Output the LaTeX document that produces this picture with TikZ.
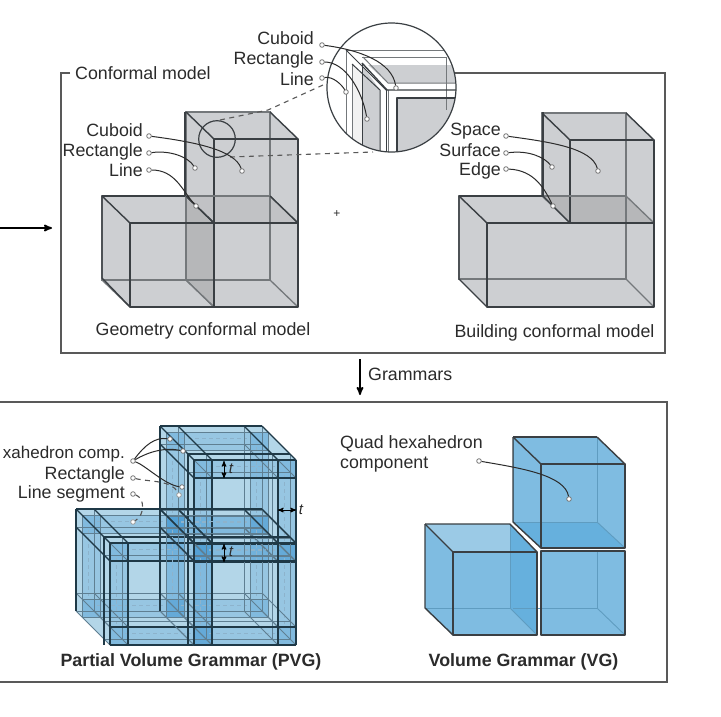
\documentclass[tikz,border=0pt]{standalone}
\usepackage{fontspec}
\setmainfont{Liberation Sans}
\usetikzlibrary{arrows}
\definecolor{inkc}{HTML}{2B2B2B}
\definecolor{edgec}{HTML}{3A3F43}
\definecolor{hiddenc}{HTML}{74787B}
\definecolor{greyc}{HTML}{CDCFD2}
\definecolor{greyd}{HTML}{B6B7B9}
\definecolor{greye}{HTML}{C1C2C5}
\definecolor{vgblue}{HTML}{7FBCE1}
\definecolor{vgtop}{HTML}{9BCAE6}
\definecolor{vgdark}{HTML}{66B0DD}
\definecolor{vgedge}{HTML}{5F9CC0}
\definecolor{pvgbase}{HTML}{B3D6E8}
\definecolor{pvgstrip}{HTML}{3F97D2}
\definecolor{pvgedge}{HTML}{1F3947}
\definecolor{pvghidden}{HTML}{5F7F92}
\definecolor{pvgdash}{HTML}{8DB3CC}
\tikzset{
  lbl/.style={text=inkc,inner sep=0pt,font=\fontsize{17.8}{20}\selectfont},
  frameline/.style={draw=black!65,line width=1.4pt},
  leader/.style={draw=inkc,line width=1pt},
  dashleader/.style={draw=inkc!80,line width=1.1pt,dash pattern=on 5pt off 4.5pt},
  dotmark/.style={circle,draw=black!55,fill=white,line width=.8pt,inner sep=0pt,minimum size=4.6pt},
  frontedge/.style={draw=edgec,line width=1.4pt,line join=round},
  backedge/.style={draw=hiddenc,line width=1.3pt},
  tarrow/.style={<->,>=stealth',draw=black,line width=1pt},
  tlbl/.style={text=inkc,inner sep=0pt,font=\fontsize{15}{17}\selectfont\itshape}
}
% wire of one cuboid: left x, top y, width, height of the front face
\newcommand{\wirebox}[4]{
  \draw[backedge] (#1-28,#2-27) rectangle +(#3,#4);
  \draw[backedge] (#1-28,#2+#4-27) -- +(28,27);
  \draw[backedge] (#1+#3-28,#2+#4-27) -- +(28,27);
  \draw[frontedge] (#1,#2) rectangle +(#3,#4);
  \draw[frontedge] (#1-28,#2-27) -- +(28,27);
  \draw[frontedge] (#1+#3-28,#2-27) -- +(28,27);
}
% outline fill of one hollow cuboid of the PVG: left x, top y of the front face
\newcommand{\pvgbasefill}[2]{
  \fill[pvgbase] (#1-34,#2-34) -- (#1+68,#2-34) -- (#1+102,#2) -- (#1+102,#2+102) -- (#1,#2+102) -- (#1-34,#2+68) -- cycle;
}
% walls of one hollow cuboid
\newcommand{\pvgfill}[2]{
  \foreach \d in {0,28} {
    \foreach \a in {0,84} {
      \fill[pvgstrip,fill opacity=.24] (#1+\a-\d,#2-\d) rectangle +(18,102);
      \fill[pvgstrip,fill opacity=.24] (#1-\d,#2+\a-\d) rectangle +(102,18);
    }
  }
}
% rails of one hollow cuboid
\newcommand{\pvglines}[2]{
  \foreach \d in {31,3} {
    \foreach \a in {9,93} {
      \draw[pvgdash,line width=.9pt,dash pattern=on 4pt off 3pt] (#1+\a-\d,#2+18-\d) -- +(0,66);
      \draw[pvgdash,line width=.9pt,dash pattern=on 4pt off 3pt] (#1+18-\d,#2+\a-\d) -- +(66,0);
    }
  }
  \foreach \d in {34,28,6} {
    \foreach \a in {0,18,84,102} {
      \draw[pvghidden,line width=.8pt] (#1+\a-\d,#2-\d) -- +(0,102);
      \draw[pvghidden,line width=.8pt] (#1-\d,#2+\a-\d) -- +(102,0);
    }
  }
  \foreach \a in {0,18,84,102} {
    \foreach \b in {18,84,102} {
      \draw[pvghidden,line width=.8pt] (#1+\a-34,#2+\b-34) -- +(34,34);
    }
  }
  \draw[pvgedge,line width=1.1pt] (#1-34,#2-34) -- +(102,0);
  \draw[pvgedge,line width=1.1pt] (#1-34,#2-34) -- +(0,102);
  \draw[pvgedge,line width=1.1pt] (#1-6,#2-6) -- +(0,108);
  \draw[pvgedge,line width=1.1pt] (#1-6,#2-6) -- +(102,0);
  \foreach \a in {0,18,84,102} {
    \draw[pvgedge,line width=1.2pt] (#1+\a-34,#2-34) -- +(34,34);
    \draw[pvgedge,line width=1.2pt] (#1+\a,#2) -- +(0,102);
    \draw[pvgedge,line width=1.2pt] (#1,#2+\a) -- +(102,0);
  }
  \draw[pvgedge,line width=1.2pt] (#1-34,#2-16) -- +(34,34);
}
\begin{document}
\begin{tikzpicture}[x=1pt,y=-1pt]
  \useasboundingbox (0,0) rectangle (721,716);
  \fill[white] (0,0) rectangle (721,716);

  % frames
  \draw[frameline] (70,73) -- (61,73) -- (61,353) -- (665,353) -- (665,73) -- (400,73);
  \draw[frameline] (0,402) -- (667,402) -- (667,682) -- (0,682);
  \node[lbl,anchor=west] (conformal) at (75,73) {Conformal model};
  \node[inner sep=0pt,text=inkc,font=\fontsize{12}{14}\selectfont] (plus) at (337,214) {+};

  % arrows between the panels
  \coordinate (inL) at (0,228);
  \coordinate (inR) at (52,228);
  \draw[->,>=stealth',line width=1.7pt,draw=black] (inL) -- (inR);
  \coordinate (gramT) at (360,359);
  \coordinate (gramB) at (360,395);
  \draw[->,>=stealth',line width=1.7pt,draw=black] (gramT) -- (gramB);
  \node[lbl,anchor=west] (grammars) at (368,374) {Grammars};

  % geometry conformal model
  \fill[greyc] (102,196) -- (185,196) -- (185,112) -- (269,112) -- (298,139) -- (298,307) -- (130,307) -- (102,278) -- cycle;
  \fill[greye] (185,196) -- (269,196) -- (298,223) -- (214,223) -- cycle;
  \fill[greyd] (185,196) -- (214,223) -- (214,307) -- (185,278) -- cycle;
  \wirebox{214}{139}{84}{84}
  \wirebox{214}{223}{84}{84}
  \wirebox{130}{223}{84}{84}
  \draw[frontedge] (185,112) -- (185,196);   % outline of the tall part
  \draw[frontedge] (102,196) -- (185,196);
  \draw[frontedge] (102,196) -- (102,278) -- (130,307);
  \node[lbl,anchor=center] (geomtitle) at (203,330.5) {Geometry conformal model};

  % building conformal model
  \fill[greyc] (459,196) -- (543,196) -- (543,112) -- (626,112) -- (654,140) -- (654,307) -- (487,307) -- (459,279) -- cycle;
  \fill[greyd] (543,196) -- (626,196) -- (654,223) -- (570,223) -- cycle;
  \wirebox{570}{140}{84}{83}
  \draw[backedge] (459,279) rectangle (626,196);
  \draw[backedge] (626,279) -- (654,307);
  \draw[frontedge] (487,223) rectangle (654,307);
  \draw[frontedge] (459,196) -- (487,223);
  \draw[frontedge] (543,196) -- (570,223);
  \draw[frontedge] (543,112) -- (543,196);
  \draw[frontedge] (459,196) -- (543,196);
  \draw[frontedge] (459,196) -- (459,279) -- (487,307);
  \node[lbl,anchor=center] (buildtitle) at (554.5,332.5) {Building conformal model};

  % magnifier and its dashed rays
  \node[circle,draw=edgec,line width=1.2pt,minimum size=36.6pt,inner sep=0pt] (lens) at (217,139) {};
  \coordinate (rayA) at (220,120);
  \coordinate (rayB) at (323,85);
  \coordinate (rayC) at (230,157);
  \coordinate (rayD) at (373,152);
  \draw[dashleader,draw=black!65] (rayA) -- (268,110) -- (rayB);
  \draw[dashleader,draw=black!65] (rayC) -- (rayD);
  \begin{scope}
    \clip (391.5,87.5) circle (64.5);
    \fill[white] (327,23) rectangle (456,152);
    \fill[black!5] (352,64) -- (380,90) -- (380,152) -- (352,152) -- cycle;
    \fill[greyc] (362,65) -- (380,90) -- (380,152) -- (362,152) -- cycle;
    \fill[greyc] (368,65) -- (456,65) -- (456,83) -- (388,83) -- cycle;
    \fill[greyc] (397,98) -- (456,98) -- (456,152) -- (397,152) -- cycle;
    \draw[backedge,line width=1pt] (346,50) -- (456,50);
    \draw[backedge,line width=1pt] (362,57) -- (446,57) -- (446,110);
    \draw[backedge,line width=1pt] (363,57) -- (388,83) -- (456,83);
    \draw[backedge,line width=1pt] (352,64) -- (352,152);
    \draw[backedge,line width=1pt] (346,50) -- (346,152);
    \draw[backedge,line width=1pt] (388,90) -- (388,152);
    \draw[frontedge,line width=1pt] (352,64) -- (380,90) -- (380,152);
    \draw[frontedge,line width=1pt] (346,50) -- (387,91);
    \draw[frontedge,line width=1.4pt] (362,63) -- (387,90) -- (456,90);
    \draw[frontedge,line width=1pt] (362,64) -- (362,152);
    \draw[frontedge,line width=1pt] (386,90) -- (386,152);
    \draw[frontedge,line width=1.3pt] (397,152) -- (397,98) -- (456,98);
  \end{scope}
  \node[circle,draw=edgec,line width=1.2pt,minimum size=129pt,inner sep=0pt] (zoomcircle) at (391.5,87.5) {};
  \draw[frameline] (456,73) -- (665,73);

  % volume grammar
  \fill[vgblue] (513,437) -- (597,437) -- (625,464) -- (625,548) -- (541,548) -- (513,522) -- cycle;
  \fill[vgdark] (513,522) -- (597,522) -- (625,548) -- (541,548) -- cycle;
  \fill[vgblue] (541,551) rectangle (625,635);
  \fill[vgblue] (425,524) -- (453,552) -- (537,552) -- (537,635) -- (453,635) -- (425,608) -- cycle;
  \fill[vgtop] (425,524) -- (510,524) -- (537,552) -- (453,552) -- cycle;
  \fill[vgdark] (510,524) -- (537,552) -- (537,635) -- (510,608) -- cycle;
  \draw[vgedge,line width=.9pt] (513,522) rectangle (597,437);
  \draw[vgedge,line width=.9pt] (597,522) -- (625,548);
  \draw[vgedge,line width=.9pt] (513,608) -- (597,608) -- (597,551);
  \draw[vgedge,line width=.9pt] (597,608) -- (625,635);
  \draw[vgedge,line width=.9pt] (425,608) -- (510,608) -- (510,524);
  \draw[vgedge,line width=.9pt] (510,608) -- (537,635);
  \draw[frontedge] (541,464) rectangle (625,548);
  \draw[frontedge] (513,437) -- (541,464);
  \draw[frontedge] (597,437) -- (625,464);
  \draw[frontedge] (513,437) -- (597,437);
  \draw[frontedge] (513,437) -- (513,522) -- (541,548);
  \draw[frontedge] (541,551) rectangle (625,635);
  \draw[frontedge] (453,552) rectangle (537,635);
  \draw[frontedge] (425,524) -- (510,524) -- (537,552);
  \draw[frontedge] (425,524) -- (453,552);
  \draw[frontedge] (425,524) -- (425,608) -- (453,635);
  \node[lbl,anchor=west,align=left] (quadlbl) at (340,454) {Quad hexahedron\\component};
  \node[lbl,anchor=center,font=\fontsize{17.8}{20}\selectfont\bfseries] (vgtitle) at (523.5,662) {Volume Grammar (VG)};

  % partial volume grammar
  \pvgbasefill{194}{460}
  \pvgbasefill{110}{543}
  \pvgbasefill{194}{543}
  \pvgfill{194}{460}
  \pvgfill{110}{543}
  \pvgfill{194}{543}
  \pvglines{194}{460}
  \pvglines{110}{543}
  \pvglines{194}{543}
  \node[lbl,anchor=center,font=\fontsize{17.8}{20}\selectfont\bfseries] (pvgtitle) at (191,662) {Partial Volume Grammar (PVG)};

  % t dimensions
  \coordinate (tAa) at (224,461);
  \coordinate (tAb) at (224,478);
  \coordinate (tBa) at (224,544);
  \coordinate (tBb) at (224,562);
  \coordinate (tCa) at (278,510);
  \coordinate (tCb) at (296,510);
  \draw[tarrow] (tAa) -- (tAb);
  \draw[tarrow] (tBa) -- (tBb);
  \draw[tarrow] (tCa) -- (tCb);
  \node[tlbl] (tA) at (231,469) {t};
  \node[tlbl] (tB) at (231,552) {t};
  \node[tlbl] (tC) at (301,510) {t};

  % labels with their leaders, geometry model
  \node[lbl,anchor=east] (gCuboid) at (143,130) {Cuboid};
  \node[lbl,anchor=east] (gRect) at (143,151.5) {Rectangle};
  \node[lbl,anchor=east] (gLine) at (143,170) {Line};
  \node[dotmark] (gCuboidS) at (149,136) {};
  \node[dotmark] (gRectS) at (149,153) {};
  \node[dotmark] (gLineS) at (149,170) {};
  \node[dotmark] (gCuboidE) at (242,171) {};
  \node[dotmark] (gRectE) at (195,168) {};
  \node[dotmark] (gLineE) at (196,206) {};
  \draw[leader] (gCuboidS) .. controls (195,142) and (235,150) .. (gCuboidE);
  \draw[leader] (gRectS) .. controls (170,150) and (188,157) .. (gRectE);
  \draw[leader] (gLineS) .. controls (175,170) and (182,190) .. (gLineE);

  % magnifier
  \node[lbl,anchor=east] (zCuboid) at (314,38) {Cuboid};
  \node[lbl,anchor=east] (zRect) at (314,60) {Rectangle};
  \node[lbl,anchor=east] (zLine) at (314,79) {Line};
  \node[dotmark] (zCuboidS) at (322,45) {};
  \node[dotmark] (zRectS) at (322,62) {};
  \node[dotmark] (zLineS) at (322,78) {};
  \node[dotmark] (zCuboidE) at (396,88) {};
  \node[dotmark] (zRectE) at (367,119) {};
  \node[dotmark] (zLineE) at (346,92) {};
  \draw[leader] (zCuboidS) .. controls (360,50) and (392,62) .. (zCuboidE);
  \draw[leader] (zRectS) .. controls (345,62) and (362,90) .. (zRectE);
  \draw[leader] (zLineS) .. controls (333,76) and (342,85) .. (zLineE);

  % building model
  \node[lbl,anchor=east] (bSpace) at (501,131) {Space};
  \node[lbl,anchor=east] (bSurface) at (501,150) {Surface};
  \node[lbl,anchor=east] (bEdge) at (501,171) {Edge};
  \node[dotmark] (bSpaceS) at (506,136) {};
  \node[dotmark] (bSurfaceS) at (506,153) {};
  \node[dotmark] (bEdgeS) at (506,169) {};
  \node[dotmark] (bSpaceE) at (598,171) {};
  \node[dotmark] (bSurfaceE) at (552,167) {};
  \node[dotmark] (bEdgeE) at (553,206) {};
  \draw[leader] (bSpaceS) .. controls (550,142) and (592,148) .. (bSpaceE);
  \draw[leader] (bSurfaceS) .. controls (530,150) and (545,158) .. (bSurfaceE);
  \draw[leader] (bEdgeS) .. controls (535,170) and (545,190) .. (bEdgeE);

  % VG leader
  \node[dotmark] (quadS) at (479,461) {};
  \node[dotmark] (quadE) at (569,499) {};
  \draw[leader] (quadS) .. controls (520,468) and (565,475) .. (quadE);

  % PVG labels
  \node[lbl,anchor=east,font=\fontsize{17}{20}\selectfont] (pHexa) at (125,454) {xahedron comp.};
  \node[lbl,anchor=east] (pRect) at (125,474.5) {Rectangle};
  \node[lbl,anchor=east] (pLine) at (125,494) {Line segment};
  \node[dotmark] (pHexaS) at (133,461) {};
  \node[dotmark] (pRectS) at (133,478) {};
  \node[dotmark] (pLineS) at (133,494) {};
  \node[dotmark] (pHexaA) at (170,439) {};
  \node[dotmark] (pHexaB) at (183,451) {};
  \node[dotmark] (pHexaC) at (182,487) {};
  \node[dotmark,draw=black!40] (pRectE) at (179,495) {};
  \node[dotmark,draw=black!40] (pLineE) at (133,522) {};
  \draw[leader] (pHexaS) .. controls (145,445) and (155,437) .. (pHexaA);
  \draw[leader] (pHexaS) .. controls (148,452) and (165,447) .. (pHexaB);
  \draw[leader] (pHexaS) .. controls (145,465) and (165,485) .. (pHexaC);
  \draw[dashleader] (pRectS) .. controls (150,482) and (172,480) .. (pRectE);
  \draw[dashleader] (pLineS) .. controls (145,498) and (145,515) .. (pLineE);
\end{tikzpicture}
\end{document}
